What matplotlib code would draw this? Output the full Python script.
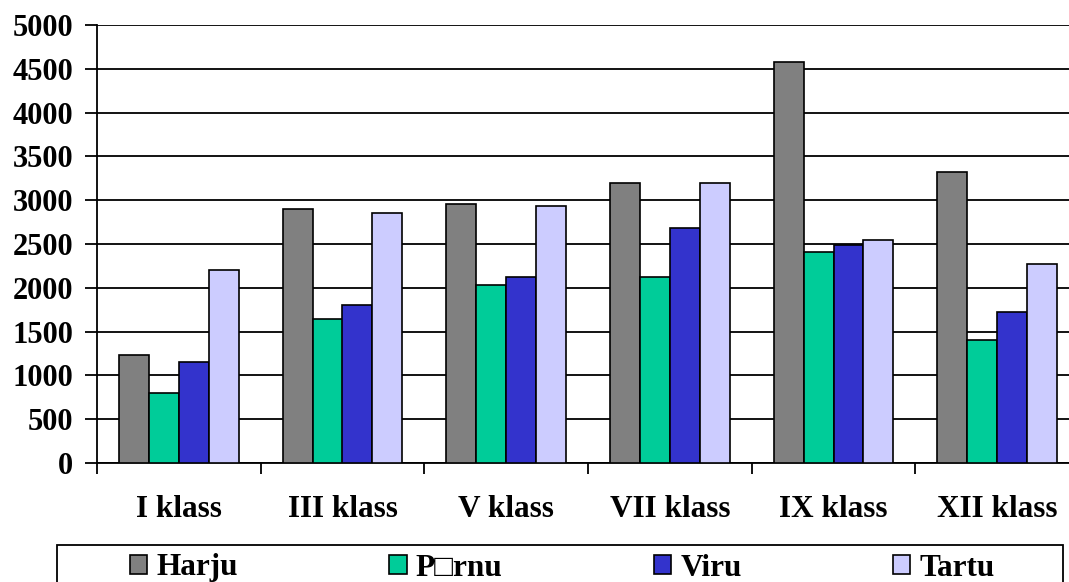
import matplotlib.pyplot as plt
import matplotlib.patches as mpatches
import numpy as np

# data
categories = ['I klass', 'III klass', 'V klass', 'VII klass', 'IX klass', 'XII klass']
series_names = ['Harju', 'P\u25a1rnu', 'Viru', 'Tartu']
harju = [1237, 2897, 2962, 3193, 4580, 3318]
parnu = [797, 1640, 2035, 2122, 2411, 1405]
viru = [1157, 1807, 2122, 2688, 2483, 1724]
tartu = [2205, 2859, 2939, 3193, 2544, 2271]
colors = ['#808080', '#00CC99', '#3333CC', '#CCCCFF']
y_ticks = list(range(0, 5001, 500))

plt.rcParams['font.family'] = ['Liberation Serif', 'DejaVu Serif']
plt.rcParams['font.weight'] = 'bold'

W, H = 1069, 582
fig = plt.figure(figsize=(W / 100, H / 100), dpi=100)
# plot area runs a bit past the right edge, as in the reference
ax = fig.add_axes([97 / W, 1 - 463 / H, 982 / W, 438 / H])

x = np.arange(len(categories))
bw = 0.183
handles = []
for i, vals in enumerate([harju, parnu, viru, tartu]):
    b = ax.bar(x + (i - 1.5) * bw, vals, bw, color=colors[i],
               edgecolor='black', linewidth=1.2, zorder=3,
               label=series_names[i])
    handles.append(b)

ax.set_xlim(-0.5, len(categories) - 0.5)
ax.set_ylim(0, 5000)
ax.set_yticks(y_ticks)
ax.set_yticklabels([str(v) for v in y_ticks], fontsize=22, fontweight='bold')
ax.tick_params(axis='y', length=9, width=1.3, pad=8, color='black')
ax.yaxis.grid(True, color='black', linewidth=1.3, zorder=0)

ax.set_xticks(x)
ax.set_xticklabels(categories, fontsize=22.5, fontweight='bold')
ax.tick_params(axis='x', which='major', length=0, pad=23)
ax.set_xticks(np.arange(-0.5, len(categories), 1.0), minor=True)
ax.tick_params(axis='x', which='minor', length=8, width=1.3, color='black')

for side in ['top', 'right']:
    ax.spines[side].set_visible(False)
for side in ['left', 'bottom']:
    ax.spines[side].set_linewidth(1.3)
    ax.spines[side].set_color('black')

# legend box
box = mpatches.Rectangle((57 / W, -0.05), (1063 - 57) / W, 0.05 + 1 - 545 / H,
                         transform=fig.transFigure, facecolor='white',
                         edgecolor='black', linewidth=1.3)
fig.patches.append(box)

fig.legend(handles=handles, loc='center', ncol=4, mode='expand',
           bbox_to_anchor=(130 / W, 1 - 568 / H, (995 - 130) / W, 0.0),
           frameon=False, handlelength=0.55, handleheight=0.55,
           handletextpad=0.3, borderaxespad=0, borderpad=0,
           prop={'weight': 'bold', 'size': 22.5})

fig.savefig('out.png', dpi=100)
